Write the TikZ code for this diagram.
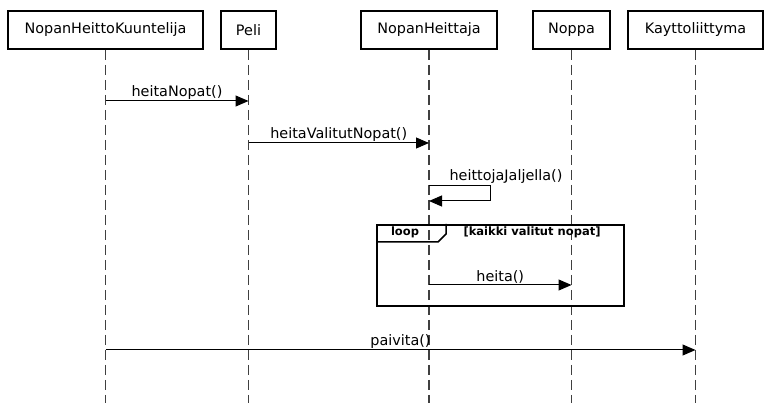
\documentclass[tikz,border=0pt]{standalone}
\usepackage{fontspec}
\setmainfont{DejaVu Sans}
\usetikzlibrary{arrows.meta}
\tikzset{head/.style={draw, line width=2pt, minimum height=38pt, inner sep=0pt, font=\fontsize{14.4}{17}\selectfont},
 lifeline/.style={dash pattern=on 10pt off 5pt, line width=1.3pt, black!75},
 msg/.style={line width=1pt, -{Triangle[length=13pt,width=11pt]}},
 lbl/.style={font=\fontsize{14.4}{17}\selectfont, above, inner sep=1pt},
 frame/.style={draw, line width=2pt, inner sep=0pt},
 tag/.style={font=\fontsize{11.5}{14}\selectfont\bfseries, inner sep=0pt},
 }

\begin{document}
\begin{tikzpicture}[x=1pt, y=-1pt]
        \useasboundingbox (0,0) rectangle (772,403);
        \foreach \n/\x/\w/\t in {k/105.5/195/NopanHeittoKuuntelija, p/248.5/55/Peli, h/429/136/NopanHeittaja, n/571.5/77/Noppa, u/695.5/135/Kayttoliittyma} {
            \node[head, minimum width=\w pt] (\n) at (\x, 30) {\t};
            \coordinate (\n-end) at (\n.south |- 0,403);
            \draw[lifeline] (\n.south) -- (\n-end);
        }
        \draw[msg] (k.south |- 0,101) -- node[lbl] (m1) {heitaNopat()} (p.south |- 0,101);
        \draw[msg] (p.south |- 0,143) -- node[lbl] (m2) {heitaValitutNopat()} (h.south |- 0,143);
        \draw[msg] (h.south |- 0,186) -- ++(61,0) -- ++(0,15) -- (h.south |- 0,201);
        \node[lbl] (m3) at (506,185) {heittojaJaljella()};
        \node[frame, minimum width=247pt, minimum height=81pt] (loopbox) at (500.5,265.5) {};
        \draw[line width=1.5pt] (loopbox.north west) ++(0,18) -- ++(62,0) -- ++(8,-8) -- ++(0,-10);
        \node[tag] (looptag) at (405,232) {loop};
        \node[tag] (guard) at (532,232) {[kaikki valitut nopat]};
        \draw[msg] (h.south |- 0,285) -- node[lbl] (m4) {heita()} (n.south |- 0,285);
        \draw[msg] (k.south |- 0,350) -- node[lbl] (m5) {paivita()} (u.south |- 0,350);
    \end{tikzpicture}
\end{document}
